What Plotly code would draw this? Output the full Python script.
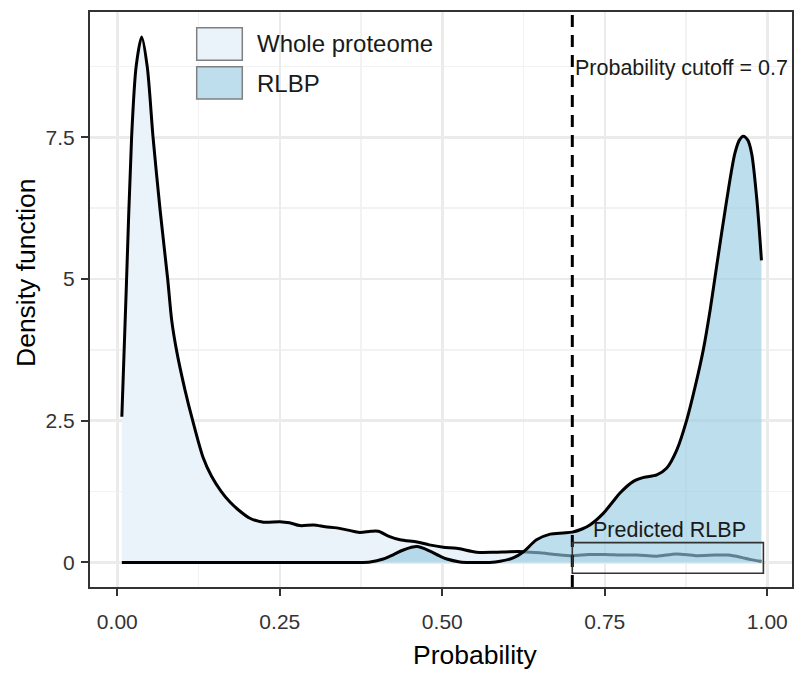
import plotly.graph_objects as go

# ---- data ----
whole_x = [0.007, 0.014, 0.022, 0.029, 0.0375, 0.046, 0.055, 0.066, 0.0775, 0.0837, 0.091,
           0.104, 0.116, 0.132, 0.145, 0.160, 0.173, 0.186, 0.204, 0.225, 0.250, 0.265,
           0.281, 0.302, 0.320, 0.3375, 0.355, 0.373, 0.390, 0.4015, 0.418, 0.435, 0.461,
           0.480, 0.5015, 0.522, 0.553, 0.580, 0.604, 0.625, 0.650, 0.675, 0.700, 0.725,
           0.750, 0.775, 0.800, 0.830, 0.860, 0.890, 0.920, 0.940, 0.960, 0.975, 0.991]
whole_y = [2.57, 4.9, 7.5, 8.75, 9.27, 8.75, 7.5, 6.2, 5.0, 4.27, 3.75,
           3.05, 2.5, 1.85, 1.52, 1.25, 1.07, 0.93, 0.78, 0.71, 0.72, 0.70,
           0.65, 0.66, 0.63, 0.61, 0.57, 0.53, 0.55, 0.55, 0.46, 0.40, 0.36,
           0.31, 0.27, 0.25, 0.18, 0.18, 0.19, 0.19, 0.17, 0.14, 0.12, 0.14,
           0.14, 0.13, 0.13, 0.11, 0.15, 0.12, 0.13, 0.13, 0.09, 0.05, 0.02]

rlbp_x = [0.007, 0.100, 0.200, 0.300, 0.370, 0.389, 0.409, 0.425, 0.440, 0.461, 0.481,
          0.495, 0.507, 0.527, 0.545, 0.573, 0.589, 0.609, 0.625, 0.645, 0.666, 0.686,
          0.700, 0.715, 0.727, 0.748, 0.763, 0.773, 0.794, 0.810, 0.830, 0.845, 0.861,
          0.876, 0.889, 0.9015, 0.912, 0.922, 0.9375, 0.950, 0.957, 0.963, 0.970, 0.976,
          0.984, 0.991]
rlbp_y = [0.0, 0.0, 0.0, 0.0, 0.0, 0.01, 0.06, 0.14, 0.22, 0.28, 0.20,
          0.12, 0.06, 0.01, 0.0, 0.0, 0.02, 0.08, 0.19, 0.40, 0.50, 0.52,
          0.535, 0.59, 0.66, 0.87, 1.08, 1.22, 1.43, 1.50, 1.545, 1.66, 1.99,
          2.51, 3.10, 3.75, 4.45, 5.22, 6.39, 7.21, 7.45, 7.52, 7.45, 7.21,
          6.39, 5.33]

cutoff = 0.7
cutoff_label = "Probability cutoff = 0.7"
box_label = "Predicted RLBP"
box_x = [0.7, 0.994]
box_y = [-0.19, 0.35]

x_ticks = [0, 0.25, 0.5, 0.75, 1.0]
x_ticktext = ["0.00", "0.25", "0.50", "0.75", "1.00"]
y_ticks = [0, 2.5, 5, 7.5]
y_ticktext = ["0", "2.5", "5", "7.5"]
series_names = ["Whole proteome", "RLBP"]

# ---- styling ----
FONT = "Liberation Sans, Arial, Helvetica, sans-serif"
WHOLE_FILL = "#EAF2FA"
RLBP_FILL = "rgba(151,202,227,0.63)"
RLBP_LEGEND = "#BEDDED"

W, H = 807, 673
L, R, T, B = 90, 15, 12, 86
pw, ph = W - L - R, H - T - B


def px2paper_x(px):
    return (px - L) / pw


def px2paper_y(py):
    return (H - B - py) / ph


fig = go.Figure()
fig.add_trace(go.Scatter(x=whole_x, y=whole_y, mode="lines", fill="tozeroy",
                         fillcolor=WHOLE_FILL, line=dict(width=0, shape="spline", smoothing=0.8),
                         hoverinfo="skip", showlegend=False))
fig.add_trace(go.Scatter(x=whole_x, y=whole_y, mode="lines",
                         line=dict(color="black", width=3, shape="spline", smoothing=0.8),
                         hoverinfo="skip", showlegend=False))
fig.add_trace(go.Scatter(x=rlbp_x, y=rlbp_y, mode="lines", fill="tozeroy",
                         fillcolor=RLBP_FILL, line=dict(width=0, shape="spline", smoothing=0.8),
                         hoverinfo="skip", showlegend=False))
fig.add_trace(go.Scatter(x=rlbp_x, y=rlbp_y, mode="lines",
                         line=dict(color="black", width=3, shape="spline", smoothing=0.8),
                         hoverinfo="skip", showlegend=False))

shapes = [
    dict(type="line", xref="x", yref="paper", x0=cutoff, x1=cutoff, y0=0, y1=1,
         line=dict(color="black", width=3, dash="12px,8px")),
    dict(type="rect", xref="x", yref="y", x0=box_x[0], x1=box_x[1], y0=box_y[0], y1=box_y[1],
         line=dict(color="#333333", width=1.6), fillcolor="rgba(0,0,0,0)"),
    # legend keys
    dict(type="rect", xref="paper", yref="paper",
         x0=px2paper_x(196.7), x1=px2paper_x(242.3), y0=px2paper_y(60.3), y1=px2paper_y(27.7),
         line=dict(color="#808080", width=1.5), fillcolor=WHOLE_FILL),
    dict(type="rect", xref="paper", yref="paper",
         x0=px2paper_x(196.7), x1=px2paper_x(242.3), y0=px2paper_y(99), y1=px2paper_y(66.7),
         line=dict(color="#808080", width=1.5), fillcolor=RLBP_LEGEND),
]

annotations = [
    dict(text=cutoff_label, x=cutoff, y=8.73, xref="x", yref="y", xanchor="left",
         yanchor="middle", showarrow=False, xshift=1, font=dict(size=21.5, color="#1a1a1a", family=FONT)),
    dict(text=box_label, x=0.85, y=0.58, xref="x", yref="y", xanchor="center",
         yanchor="middle", showarrow=False, font=dict(size=21.5, color="#1a1a1a", family=FONT)),
    dict(text=series_names[0], x=px2paper_x(255), y=px2paper_y(44), xref="paper", yref="paper",
         xanchor="left", yanchor="middle", showarrow=False,
         font=dict(size=24, color="#1a1a1a", family=FONT)),
    dict(text=series_names[1], x=px2paper_x(255), y=px2paper_y(83), xref="paper", yref="paper",
         xanchor="left", yanchor="middle", showarrow=False,
         font=dict(size=24, color="#1a1a1a", family=FONT)),
    dict(text="Probability", x=px2paper_x(475), y=px2paper_y(655), xref="paper", yref="paper",
         xanchor="center", yanchor="middle", showarrow=False,
         font=dict(size=26.5, color="black", family=FONT)),
    dict(text="Density function", x=px2paper_x(26), y=px2paper_y(273), xref="paper", yref="paper",
         xanchor="center", yanchor="middle", showarrow=False, textangle=-90,
         font=dict(size=26.5, color="black", family=FONT)),
]

axis_common = dict(showline=True, mirror=True, linecolor="#333333", linewidth=2,
                   ticks="outside", ticklen=7, tickwidth=2, tickcolor="#333333",
                   showgrid=True, gridcolor="#EBEBEB", gridwidth=2.5, zeroline=False,
                   tickfont=dict(size=21, color="#333333", family=FONT))

fig.update_layout(
    width=W, height=H, margin=dict(l=L, r=R, t=T, b=B, autoexpand=False),
    paper_bgcolor="white", plot_bgcolor="white", hovermode=False,
    shapes=shapes, annotations=annotations, showlegend=False,
    xaxis=dict(range=[-0.042, 1.038], tickmode="array", tickvals=x_ticks, ticktext=x_ticktext,
               ticklabelstandoff=8,
               minor=dict(tickvals=[0.125, 0.375, 0.625, 0.875], showgrid=True,
                          gridcolor="#F2F2F2", gridwidth=1.5, ticks=""),
               **axis_common),
    yaxis=dict(range=[-0.433, 9.71], tickmode="array", tickvals=y_ticks, ticktext=y_ticktext,
               ticklabelstandoff=2,
               minor=dict(tickvals=[1.25, 3.75, 6.25, 8.75], showgrid=True,
                          gridcolor="#F2F2F2", gridwidth=1.5, ticks=""),
               **axis_common),
)

fig.write_html("out.html", config={"displayModeBar": False, "staticPlot": True},
               post_script="document.body.style.margin='0px';")
